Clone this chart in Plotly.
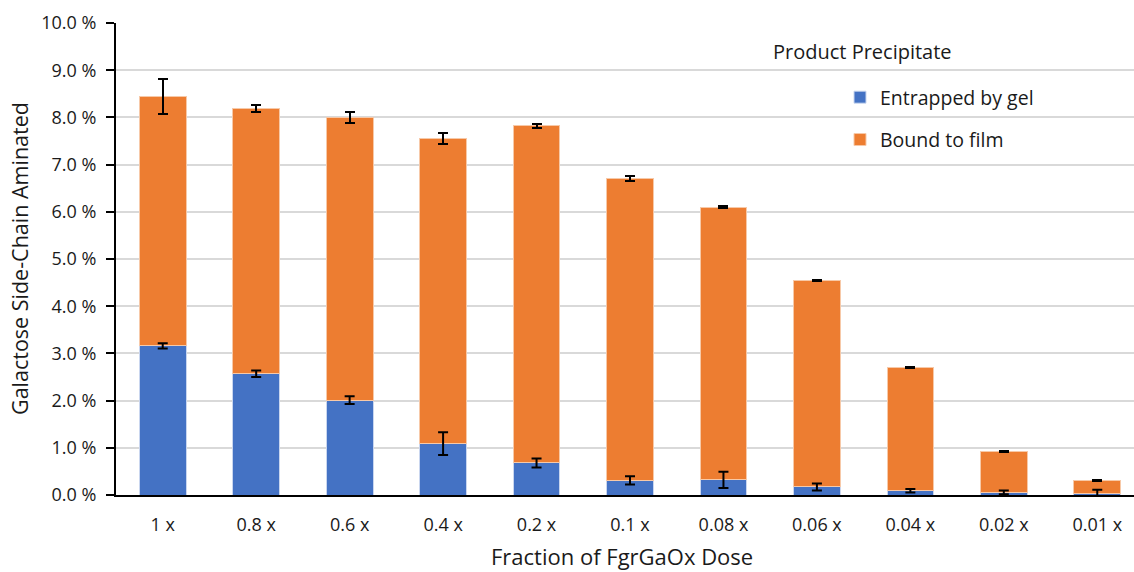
import plotly.graph_objects as go

categories = ["1 x", "0.8 x", "0.6 x", "0.4 x", "0.2 x", "0.1 x", "0.08 x", "0.06 x", "0.04 x", "0.02 x", "0.01 x"]
entrapped_gel = [3.16, 2.57, 2.01, 1.09, 0.68, 0.31, 0.32, 0.17, 0.09, 0.056, 0.035]
entrapped_err = [0.055, 0.07, 0.08, 0.24, 0.095, 0.085, 0.17, 0.075, 0.035, 0.04, 0.075]
bound_film = [5.29, 5.615, 5.99, 6.46, 7.14, 6.39, 5.78, 4.37, 2.615, 0.862, 0.275]
bound_err = [0.37, 0.08, 0.12, 0.11, 0.045, 0.05, 0.015, 0.01, 0.01, 0.01, 0.01]

font_family = "Open Sans, Noto Sans, sans-serif"
text_color = "#1a1a1a"

W, H = 1134, 572
ML, MR, MT, MB = 116, 0, 23, 77
plot_w = W - ML - MR
plot_h = H - MT - MB


def px_x(x):
    return (x - ML) / plot_w


def px_y(y):
    return (H - MB - y) / plot_h


fig = go.Figure()
fig.add_trace(go.Bar(
    x=categories, y=entrapped_gel, name="Entrapped by gel",
    marker=dict(color="#4472C4", line=dict(color="#c9d6ef", width=1)),
    legendgroup="g1",
))
fig.add_trace(go.Bar(
    x=categories, y=bound_film, name="Bound to film",
    marker=dict(color="#ED7D31", line=dict(color="#f7c9a8", width=1)),
    error_y=dict(type="data", array=bound_err, color="black", thickness=2, width=5),
    legendgroup="g2",
))
# error bars of the lower segment, drawn above the stacked bars
fig.add_trace(go.Scatter(
    x=categories, y=entrapped_gel, mode="markers",
    marker=dict(size=1, opacity=0),
    error_y=dict(type="data", array=entrapped_err, color="black", thickness=2, width=5),
    showlegend=False, hoverinfo="skip",
))

n = len(categories)
fig.update_layout(
    barmode="stack",
    bargap=0.5,
    width=W, height=H,
    margin=dict(l=ML, r=MR, t=MT, b=MB),
    paper_bgcolor="white", plot_bgcolor="white",
    font=dict(family=font_family, color=text_color, size=18),
    showlegend=True,
    legend=dict(
        x=px_x(840), y=px_y(78), xanchor="left", yanchor="top",
        traceorder="grouped", tracegroupgap=14,
        font=dict(size=19.5, color=text_color),
        bgcolor="rgba(255,255,255,0)",
        itemwidth=30,
    ),
    annotations=[
        dict(text="Product Precipitate", x=px_x(862), y=px_y(52), xref="paper", yref="paper",
             xanchor="center", yanchor="middle", showarrow=False,
             font=dict(size=20, color=text_color)),
        dict(text="Galactose Side-Chain Aminated", x=px_x(19), y=px_y(259), xref="paper", yref="paper",
             xanchor="center", yanchor="middle", textangle=-90, showarrow=False,
             font=dict(size=21.5, color=text_color)),
        dict(text="Fraction of FgrGaOx Dose", x=px_x(622), y=px_y(556), xref="paper", yref="paper",
             xanchor="center", yanchor="middle", showarrow=False,
             font=dict(size=22, color=text_color)),
    ],
    xaxis=dict(
        range=[-0.5, n - 0.5 - 10 / 93.5],
        showline=True, linecolor="black", linewidth=2,
        ticks="", showgrid=False, automargin=False,
        tickfont=dict(size=18, color=text_color),
        ticklabelstandoff=12,
    ),
    yaxis=dict(
        range=[0, 10], dtick=1, tickformat=".1f", ticksuffix=" %",
        showline=True, linecolor="black", linewidth=2,
        ticks="outside", ticklen=8, tickwidth=2, tickcolor="black",
        showgrid=True, gridcolor="#d9d9d9", gridwidth=2,
        zeroline=False, automargin=False,
        tickfont=dict(size=18, color=text_color),
        ticklabelstandoff=6,
    ),
)

fig.write_html(
    "out.html",
    config={"displayModeBar": False},
    post_script="document.body.style.margin='0';document.body.style.overflow='hidden';",
)
